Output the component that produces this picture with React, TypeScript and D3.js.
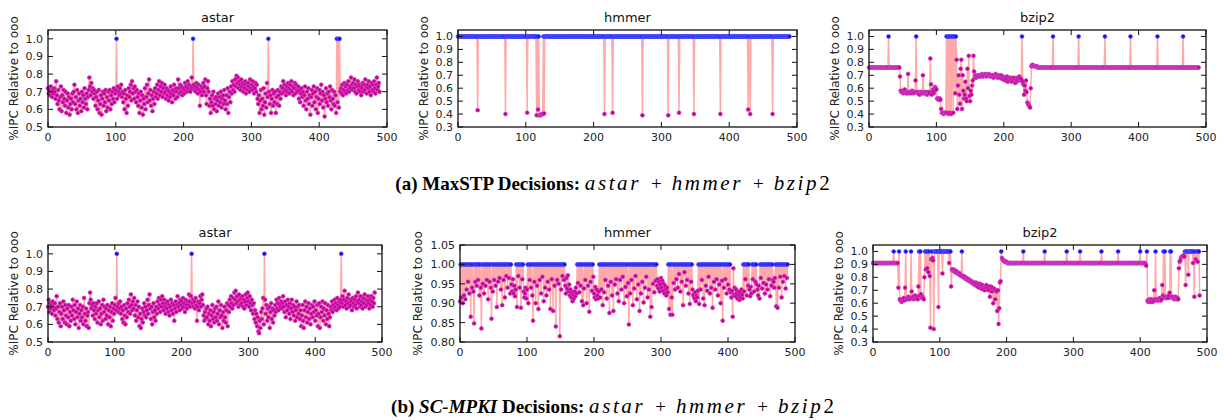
import React from "react";
import * as d3 from "d3";

// flat runs
const rep = (v: number, n: number): number[] => Array(n).fill(v);

// %IPC relative to ooo, one value per sample (x = sample index)
// astar, MaxSTP decisions (hundredths)
const astarMaxStp = [
  72,69,71,68,73,70,67,71,69,72, 70,66,76,68,63,71,65,60,67,73,
  59,68,64,71,66,62,70,58,65,69, 61,67,57,63,66,60,69,64,70,74,
  63,67,60,71,58,65,69,62,66,59, 70,64,68,61,72,66,63,69,60,67,
  71,78,73,68,75,70,72,66,71,69, 62,67,70,60,65,71,58,63,68,57,
  66,70,62,69,64,71,59,67,61,70, 65,71,60,68,63,70,66,72,64,69,
  71,100,66,73,70,68,72,69,74,67, 70,64,69,60,71,66,58,68,62,72,
  67,70,74,65,76,69,72,66,73,70, 64,71,67,62,69,58,65,70,61,68,
  57,66,63,72,60,67,74,64,69,77, 65,71,62,68,59,66,70,63,72,67,
  69,74,66,71,76,68,73,70,75,67, 72,69,74,70,66,72,68,71,65,70,
  67,73,69,64,71,68,74,70,66,72, 70,67,77,72,69,74,70,73,68,71,
  72,69,75,71,73,70,76,72,74,71, 70,73,78,72,100,74,71,73,70,75,
  72,69,74,71,62,70,73,68,72,75, 70,73,77,68,63,72,76,70,62,66,
  58,64,68,62,70,60,66,63,67,59, 65,69,62,67,64,70,61,66,68,63,
  71,65,60,68,63,72,58,67,70,64, 73,69,76,71,74,70,77,73,79,75,
  78,72,76,74,71,77,73,75,70,74, 72,76,69,74,71,75,73,70,77,72,
  74,71,76,73,69,72,75,70,74,66, 63,68,58,65,71,60,66,62,72,57,
  64,69,61,75,67,100,70,63,68,58, 66,71,62,69,64,70,58,67,63,71,
  68,62,70,66,73,69,72,76,70,74, 71,68,73,70,75,72,69,74,71,76,
  70,73,68,72,75,69,74,71,70,73, 66,71,64,69,72,67,70,62,68,73,
  65,60,70,66,72,63,68,57,67,71, 62,69,73,64,70,60,67,72,58,66,
  71,63,69,74,65,70,61,68,56,66, 72,64,69,62,70,67,73,65,60,71,
  66,63,70,62,68,58,100,64,100,61, 100,70,72,69,74,68,71,75,70,73,
  69,74,71,76,70,73,72,78,74,71, 75,72,77,70,74,69,73,76,71,74,
  70,73,68,72,75,70,74,71,77,73, 69,74,72,76,70,73,68,75,71,74,
  70,76,72,69,74,78,71,73,75,70,
];

// hmmer, MaxSTP decisions: 1.0 everywhere except these samples
const hmmerMaxStpDips: [number, number][] = [
  [29, 0.43], [70, 0.4], [102, 0.41], [116, 0.39], [118, 0.435], [120, 0.39],
  [121, 0.39], [122, 0.395], [123, 0.395], [124, 0.4], [125, 0.4], [127, 0.405],
  [216, 0.4], [228, 0.41], [272, 0.39], [310, 0.39], [326, 0.41], [348, 0.4],
  [387, 0.4], [428, 0.435], [431, 0.4], [464, 0.4],
];

// bzip2, MaxSTP decisions (hundredths)
const bzip2MaxStp = [
  ...rep(76, 29), 100, ...rep(76, 16),
  69, 58,57,57,58,56,57,59,57,56,57,56, 71,
  57,56,57,57,56,58,57,56,57,57, 66, 100,
  57,56,57,56,55,57,56,57,56, 70,
  56,57,56,57,56,55,57,56,57,56, 83, 63,
  55,57,59,56,58,61,60,59, 52,52,51,52,52,51, 44,
  41,41,41,40,41,41,41,
  100,41,100,40,100,41,100,40,100,100,41,100,100,56,100,
  82,44,62,70,55,48,75,82,44,70,58,52,55,65,52,50,75,60,85,54,50,58,55,62,66,85,73,68,70,68,69,
  69,70,69,70,70,69,70,71,70,69,70,70,71,70,69,70,70,71,70,69,
  70,69,70,70,68,69,70,71,70,69,68,69,70,69,68,70,69,67,69,68,
  68,66,68,67,69,65,68,67,66,68,67,65,68,66,67,68,64,67,65,68,66,67,69,68,66,
  67, 100,
  65,63,55,62,58,66,57,49,48,47,46,45,60,
  77,78,78,77,77,77,77,77,77,76,76,76,76,76,76,
  ...rep(76, 17), 100, ...rep(76, 37), 100, ...rep(76, 38), 100, ...rep(76, 37), 100,
  ...rep(76, 39), 100, ...rep(76, 37), 100, ...rep(76, 23),
];

// astar, SC-MPKI decisions (hundredths)
const astarScMpki = [
  70,74,67,72,69,71,66,73,70,68, 72,65,69,76,63,70,61,67,72,59,
  66,70,63,73,68,61,71,65,60,69, 64,71,59,67,62,70,65,74,68,63,
  71,60,67,73,64,69,58,66,71,62, 68,64,70,60,75,66,62,69,59,65,
  67,58,72,78,74,69,71,65,72,68, 63,70,66,72,61,68,73,64,69,60,
  66,71,62,74,67,70,63,69,65,71, 60,68,64,70,59,67,72,62,69,66,
  71,75,68,100,70,67,72,69,73,66, 70,63,68,61,71,65,60,69,64,72,
  67,74,70,66,77,71,68,73,69,75, 65,71,62,68,73,64,70,59,66,58,
  63,69,61,67,72,65,70,64,68,74, 66,71,77,69,63,70,60,67,72,64,
  68,62,70,66,73,69,75,71,67,74, 70,76,72,68,74,70,66,72,69,73,
  67,71,65,70,74,68,72,66,71,62, 69,73,67,71,76,70,72,68,74,71,
  73,69,75,70,72,67,74,71,69,73, 71,77,73,70,76,100,72,74,70,73,
  69,75,71,62,70,73,68,72,76,70, 74,77,71,65,62,67,63,69,64,70,
  60,66,62,68,59,65,71,63,67,61, 69,64,70,62,66,73,60,68,64,71,
  65,58,67,62,70,64,61,68,72,59, 71,67,74,70,76,72,69,75,71,78,
  74,79,72,76,73,70,77,74,71,75, 72,76,70,74,69,73,77,71,75,78,
  73,70,76,72,68,74,71,66,72,63, 68,61,66,59,64,56,55,62,58,67,
  63,69,75,60,100,74,66,71,62,69, 64,70,58,67,72,63,69,61,68,65,
  71,67,74,69,72,68,75,71,70,73, 69,72,76,70,67,73,64,71,68,74,
  70,66,72,63,69,74,67,71,65,70, 62,68,73,64,70,66,71,63,68,59,
  65,71,62,58,68,73,64,70,61,67, 72,63,69,60,66,71,64,70,67,73,
  62,68,65,71,59,66,72,58,64,70, 67,73,62,69,65,72,60,68,63,71,
  66,59,64,70,68,73,67,71,69,74, 70,72,68,75,71,69,73,70,74,100,
  72,76,70,74,79,71,73,69,75,72, 77,70,74,71,73,68,75,72,70,74,
  71,76,69,73,78,72,74,70,76,71, 73,69,75,72,77,70,74,71,73,76,
  72,69,74,71,76,73,70,75,72,78,
];

// hmmer, SC-MPKI decisions (thousandths)
const hmmerScMpki = [
  905,1000,915,1000,900,1000,920,1000,910,1000, 935,1000,955,1000,925,1000,865,1000,940,1000,
  930,848,1000,955,1000,945,1000,960,1000,920, 1000,940,835,1000,950,1000,925,1000,945,1000,
  960,1000,910,1000,955,1000,940,860,1000,930, 1000,960,1000,945,1000,890,1000,955,1000,965,
  1000,935,1000,895,1000,960,1000,915,1000,970, 1000,940,1000,965,1000,925,1000,948,930,962,
  925,945,918,935,1000,890,1000,970,1000,940, 1000,888,1000,962,1000,930,915,925,940,912,
  935,1000,900,1000,960,1000,940,1000,920,855, 1000,955,1000,900,1000,945,1000,885,1000,960,
  1000,925,1000,968,1000,905,1000,940,1000,920, 1000,955,1000,935,1000,885,1000,962,1000,880,
  1000,945,1000,840,1000,960,1000,950,1000,815, 1000,935,1000,970,1000,960,1000,945,925,965,
  938,972,930,948,920,935,915,928,905,922, 912,930,918,940,925,1000,952,1000,928,1000,
  945,1000,905,1000,895,938,1000,960,1000,900, 1000,945,1000,878,1000,955,1000,932,1000,968,
  925,915,942,910,935,920,912,930,1000,915, 1000,935,1000,895,1000,928,1000,960,1000,912,
  1000,945,1000,875,1000,955,1000,920,1000,880, 1000,948,1000,962,1000,925,1000,905,1000,960,
  1000,935,1000,968,1000,900,1000,942,1000,918, 1000,952,845,1000,925,1000,960,1000,895,1000,
  938,1000,970,1000,910,1000,948,1000,880,1000, 925,1000,955,1000,902,1000,940,1000,968,1000,
  915,1000,935,1000,865,1000,890,1000,950,1000, 928,1000,958,1000,945,962,938,955,930,948,
  965,940,958,932,950,925,945,935,920,940, 928,1000,885,1000,870,1000,915,870,1000,952,
  1000,935,1000,962,1000,940,1000,975,1000,930, 1000,955,1000,895,1000,980,1000,945,1000,960,
  1000,925,1000,898,1000,955,1000,935,922,918, 912,928,905,920,915,932,1000,898,1000,935,
  1000,960,1000,912,1000,895,1000,945,1000,932, 1000,968,1000,925,1000,940,1000,888,1000,955,
  1000,935,1000,962,1000,920,1000,948,1000,900, 1000,958,855,1000,940,1000,962,1000,925,1000,
  948,1000,935,1000,928,915,932,865,990,922, 940,918,935,925,912,930,920,908,928,915,
  935,922,912,1000,930,1000,962,1000,920,1000, 945,1000,935,918,942,925,1000,962,1000,930,
  1000,955,1000,948,935,920,945,912,1000,965, 1000,938,1000,952,1000,925,1000,948,1000,935,
  1000,962,1000,918,1000,945,1000,960,955,940, 965,1000,892,1000,888,1000,940,1000,968,1000,
  915,1000,955,1000,970,1000,938,1000,965,1000,
];

// bzip2, SC-MPKI decisions (hundredths)
const bzip2ScMpki = [
  ...rep(91, 31), 100, ...rep(91, 6),
  72, 100, 63, 62,63,61,62,63,64,62, 72, 100, 63, 64,63,65,64,63,64,
  100, 69, 64, 65,63,64,66,64,65,64,63, 73, 100, 66, 100, 67, 64, 65,64,63,
  80, 100, 86, 100, 87, 100, 84, 100, 81, 41, 94, 100, 95, 93, 40, 100, 100, 100,
  100,100,100,57,100,100,100,100,100,83,100,100,100,100,100,100,100,100,100,91,100,100,73,
  86,86,85,86,85,84,85,84,83,84,83,82,83,82,81, 100,
  81,80,81,80,79,80,79,78,79,78,77,78,77,76,77,76,75,
  76,75,74,76,75,73,75,74,72,75,73,74,71,74,72,73,70,73,72,74,
  71,73,70,72,65,73,71,69,72,60,70,71,63,70,69,
  54, 70, 44, 56, 76, 77, 100,
  95,94,93,93,92,92,92,92,91,91,91,91,91,
  ...rep(91, 19), 100, ...rep(91, 31), 100, ...rep(91, 32), 100, ...rep(91, 19), 100,
  ...rep(91, 31), 100, ...rep(91, 24), 100, ...rep(91, 32), 100, ...rep(91, 7), 90,
  89, 100, 62,61,62,63,62,61,63,62,61,62, 70, 63, 100, 62,63,63,62,63,64,63,62,63,
  74, 66, 100, 65, 100, 64, 65,64,65,64,66, 68, 100, 100, 65, 64,65,64,63,64,65,64,63,64,63,
  87, 92, 93, 95, 96, 96, 96, 97, 96, 100, 74, 100, 100, 100, 82, 100, 100, 100, 100, 100,
  100, 91, 100, 65, 100, 94, 93, 100, 92, 100, 100, 66,
];

const hmmerMaxStp = rep(1, 490);
hmmerMaxStpDips.forEach(([i, v]) => { hmmerMaxStp[i] = v; });

const xTicks = [0, 100, 200, 300, 400, 500];
const yTicksWide = [0.3, 0.4, 0.5, 0.6, 0.7, 0.8, 0.9, 1.0];
const yTicksAstar = [0.5, 0.6, 0.7, 0.8, 0.9, 1.0];
const yTicksHmmer = [0.8, 0.85, 0.9, 0.95, 1.0, 1.05];

const FONT = "DejaVu Sans, sans-serif";

function Panel({ title, values, left, right, top, bottom, yDomain, yTicks, fmt }) {
  const x = d3.scaleLinear().domain([0, 500]).range([left, right]);
  const y = d3.scaleLinear().domain(yDomain).range([bottom, top]);
  const line = d3.line<number>().x((_, i) => x(i)).y((d) => y(d));
  const f = d3.format(fmt);
  const tl = 5;
  const isTop = (v: number) => v >= 0.995;
  const labelX = fmt === ".2f" ? left - 38 : left - 30;
  return (
    <g>
      <text x={(left + right) / 2} y={top - 8} textAnchor="middle" fontSize={13} fontFamily={FONT} fill="#111">{title}</text>
      <path d={line(values) || ""} fill="none" stroke="#ff6f6f" strokeOpacity={0.6} strokeWidth={1.5} />
      {values.map((v, i) => !isTop(v) && (
        <circle key={"m" + i} cx={x(i)} cy={y(v)} r={2} fill="#cc0088" stroke="#c850d8" strokeWidth={0.6} />
      ))}
      {values.map((v, i) => isTop(v) && (
        <circle key={"b" + i} cx={x(i)} cy={y(v)} r={2} fill="#1414e6" stroke="#5a5aff" strokeWidth={0.6} />
      ))}
      <rect x={left} y={top} width={right - left} height={bottom - top} fill="none" stroke="#111" strokeWidth={1.3} />
      {xTicks.map((t) => (
        <g key={"x" + t}>
          <line x1={x(t)} x2={x(t)} y1={bottom} y2={bottom - tl} stroke="#111" />
          <line x1={x(t)} x2={x(t)} y1={top} y2={top + tl} stroke="#111" />
          <text x={x(t)} y={bottom + 14} textAnchor="middle" fontSize={11} fontFamily={FONT} fill="#222">{t}</text>
        </g>
      ))}
      {yTicks.map((t) => (
        <g key={"y" + t}>
          <line x1={left} x2={left + tl} y1={y(t)} y2={y(t)} stroke="#111" />
          <line x1={right} x2={right - tl} y1={y(t)} y2={y(t)} stroke="#111" />
          <text x={left - 5} y={y(t) + 4} textAnchor="end" fontSize={11} fontFamily={FONT} fill="#222">{f(t)}</text>
        </g>
      ))}
      <text transform={`translate(${labelX},${(top + bottom) / 2}) rotate(-90)`} textAnchor="middle" fontSize={12} fontFamily={FONT} fill="#222">%IPC Relative to ooo</text>
    </g>
  );
}

function Caption({ y, label, method, italicMethod }) {
  const serif = "Liberation Serif, DejaVu Serif, serif";
  const gap = 10;
  const ls = 2.6;
  const mathSize = 21;
  return (
    <text x={612.5} y={y} textAnchor="middle" fontSize={19} fontFamily={serif} fill="#000">
      <tspan fontWeight="bold">{label} </tspan>
      <tspan fontWeight="bold" fontStyle={italicMethod ? "italic" : "normal"}>{method}</tspan>
      <tspan fontWeight="bold"> Decisions: </tspan>
      <tspan fontStyle="italic" fontSize={mathSize} letterSpacing={ls}>astar</tspan>
      <tspan dx={gap}>+</tspan>
      <tspan dx={gap} fontStyle="italic" fontSize={mathSize} letterSpacing={ls}>hmmer</tspan>
      <tspan dx={gap}>+</tspan>
      <tspan dx={gap} fontStyle="italic" fontSize={mathSize} letterSpacing={ls}>bzip</tspan>
      <tspan fontSize={mathSize}>2</tspan>
    </text>
  );
}

export default function App() {
  return (
    <svg width={1225} height={420} style={{ position: "absolute", left: 0, top: 0, background: "#fff" }}>
      <Panel title="astar" values={astarMaxStp.map((v) => v / 100)} left={48} right={387} top={30} bottom={127} yDomain={[0.5, 1.05]} yTicks={yTicksAstar} fmt=".1f" />
      <Panel title="hmmer" values={hmmerMaxStp} left={458} right={797} top={30} bottom={127} yDomain={[0.3, 1.05]} yTicks={yTicksWide} fmt=".1f" />
      <Panel title="bzip2" values={bzip2MaxStp.map((v) => v / 100)} left={869} right={1206} top={30} bottom={127} yDomain={[0.3, 1.05]} yTicks={yTicksWide} fmt=".1f" />
      <Caption y={190} label="(a)" method="MaxSTP" italicMethod={false} />
      <Panel title="astar" values={astarScMpki.map((v) => v / 100)} left={48} right={382} top={245} bottom={342} yDomain={[0.5, 1.05]} yTicks={yTicksAstar} fmt=".1f" />
      <Panel title="hmmer" values={hmmerScMpki.map((v) => v / 1000)} left={460} right={795} top={245} bottom={342} yDomain={[0.8, 1.05]} yTicks={yTicksHmmer} fmt=".2f" />
      <Panel title="bzip2" values={bzip2ScMpki.map((v) => v / 100)} left={873} right={1207} top={245} bottom={342} yDomain={[0.3, 1.05]} yTicks={yTicksWide} fmt=".1f" />
      <Caption y={413} label="(b)" method="SC-MPKI" italicMethod={true} />
    </svg>
  );
}
